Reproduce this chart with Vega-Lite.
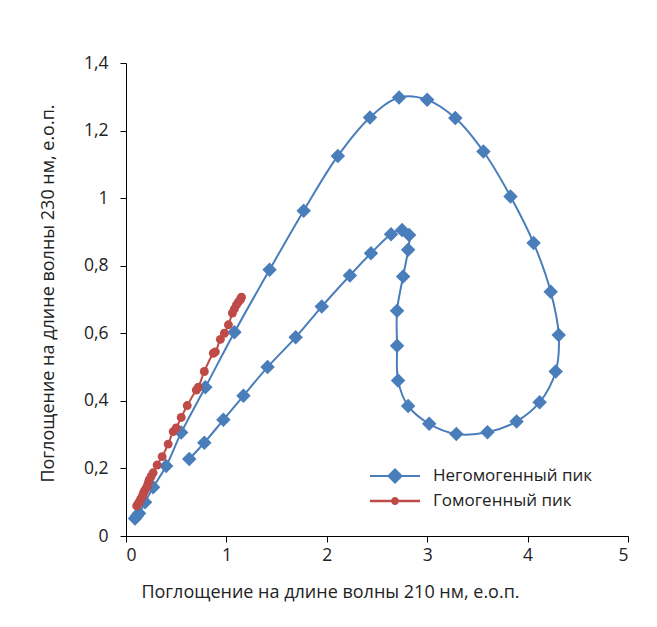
{
  "$schema": "https://vega.github.io/schema/vega-lite/v6.json",
  "autosize": {"type": "none"},
  "width": 502,
  "height": 473,
  "padding": {"left": 126, "top": 63, "right": 29, "bottom": 91},
  "background": "white",
  "config": {
    "font": "Open Sans",
    "view": {"stroke": null},
    "axis": {"grid": false, "domainColor": "#000", "tickColor": "#000", "labelColor": "#222", "titleColor": "#222", "labelFontSize": 17.5, "titleFontSize": 18, "titleFontWeight": "normal", "tickSize": 6, "labelFont": "Open Sans", "titleFont": "Open Sans"},
    "legend": {"labelFont": "Open Sans", "labelFontSize": 17, "labelColor": "#222"}
  },
  "datasets": {
    "curves": [
      {"s": "Негомогенный пик", "i": 1, "x": 0.09, "y": 0.052},
      {"s": "Негомогенный пик", "i": 2, "x": 0.11, "y": 0.06},
      {"s": "Негомогенный пик", "i": 3, "x": 0.13, "y": 0.067},
      {"s": "Негомогенный пик", "i": 4, "x": 0.19, "y": 0.10},
      {"s": "Негомогенный пик", "i": 5, "x": 0.27, "y": 0.144},
      {"s": "Негомогенный пик", "i": 6, "x": 0.40, "y": 0.207},
      {"s": "Негомогенный пик", "i": 7, "x": 0.55, "y": 0.306},
      {"s": "Негомогенный пик", "i": 8, "x": 0.79, "y": 0.44},
      {"s": "Негомогенный пик", "i": 9, "x": 1.08, "y": 0.603},
      {"s": "Негомогенный пик", "i": 10, "x": 1.43, "y": 0.788},
      {"s": "Негомогенный пик", "i": 11, "x": 1.77, "y": 0.963},
      {"s": "Негомогенный пик", "i": 12, "x": 2.11, "y": 1.125},
      {"s": "Негомогенный пик", "i": 13, "x": 2.43, "y": 1.239},
      {"s": "Негомогенный пик", "i": 14, "x": 2.72, "y": 1.298},
      {"s": "Негомогенный пик", "i": 15, "x": 3.00, "y": 1.291},
      {"s": "Негомогенный пик", "i": 16, "x": 3.28, "y": 1.237},
      {"s": "Негомогенный пик", "i": 17, "x": 3.56, "y": 1.138},
      {"s": "Негомогенный пик", "i": 18, "x": 3.83, "y": 1.005},
      {"s": "Негомогенный пик", "i": 19, "x": 4.06, "y": 0.867},
      {"s": "Негомогенный пик", "i": 20, "x": 4.23, "y": 0.723},
      {"s": "Негомогенный пик", "i": 21, "x": 4.31, "y": 0.595},
      {"s": "Негомогенный пик", "i": 22, "x": 4.28, "y": 0.487},
      {"s": "Негомогенный пик", "i": 23, "x": 4.12, "y": 0.396},
      {"s": "Негомогенный пик", "i": 24, "x": 3.89, "y": 0.339},
      {"s": "Негомогенный пик", "i": 25, "x": 3.60, "y": 0.307},
      {"s": "Негомогенный пик", "i": 26, "x": 3.29, "y": 0.302},
      {"s": "Негомогенный пик", "i": 27, "x": 3.02, "y": 0.332},
      {"s": "Негомогенный пик", "i": 28, "x": 2.81, "y": 0.385},
      {"s": "Негомогенный пик", "i": 29, "x": 2.71, "y": 0.46},
      {"s": "Негомогенный пик", "i": 30, "x": 2.70, "y": 0.563},
      {"s": "Негомогенный пик", "i": 31, "x": 2.70, "y": 0.667},
      {"s": "Негомогенный пик", "i": 32, "x": 2.76, "y": 0.768},
      {"s": "Негомогенный пик", "i": 33, "x": 2.81, "y": 0.847},
      {"s": "Негомогенный пик", "i": 34, "x": 2.82, "y": 0.891},
      {"s": "Негомогенный пик", "i": 35, "x": 2.75, "y": 0.906},
      {"s": "Негомогенный пик", "i": 36, "x": 2.64, "y": 0.893},
      {"s": "Негомогенный пик", "i": 37, "x": 2.44, "y": 0.837},
      {"s": "Негомогенный пик", "i": 38, "x": 2.23, "y": 0.771},
      {"s": "Негомогенный пик", "i": 39, "x": 1.95, "y": 0.679},
      {"s": "Негомогенный пик", "i": 40, "x": 1.69, "y": 0.588},
      {"s": "Негомогенный пик", "i": 41, "x": 1.41, "y": 0.50},
      {"s": "Негомогенный пик", "i": 42, "x": 1.17, "y": 0.415},
      {"s": "Негомогенный пик", "i": 43, "x": 0.97, "y": 0.344},
      {"s": "Негомогенный пик", "i": 44, "x": 0.78, "y": 0.276},
      {"s": "Негомогенный пик", "i": 45, "x": 0.63, "y": 0.228},
      {"s": "Гомогенный пик", "i": 1, "x": 0.107, "y": 0.089},
      {"s": "Гомогенный пик", "i": 2, "x": 0.12, "y": 0.095},
      {"s": "Гомогенный пик", "i": 3, "x": 0.13, "y": 0.10},
      {"s": "Гомогенный пик", "i": 4, "x": 0.145, "y": 0.108},
      {"s": "Гомогенный пик", "i": 5, "x": 0.16, "y": 0.116},
      {"s": "Гомогенный пик", "i": 6, "x": 0.17, "y": 0.124},
      {"s": "Гомогенный пик", "i": 7, "x": 0.18, "y": 0.131},
      {"s": "Гомогенный пик", "i": 8, "x": 0.195, "y": 0.139},
      {"s": "Гомогенный пик", "i": 9, "x": 0.21, "y": 0.146},
      {"s": "Гомогенный пик", "i": 10, "x": 0.22, "y": 0.156},
      {"s": "Гомогенный пик", "i": 11, "x": 0.23, "y": 0.166},
      {"s": "Гомогенный пик", "i": 12, "x": 0.25, "y": 0.176},
      {"s": "Гомогенный пик", "i": 13, "x": 0.27, "y": 0.187},
      {"s": "Гомогенный пик", "i": 14, "x": 0.31, "y": 0.21},
      {"s": "Гомогенный пик", "i": 15, "x": 0.36, "y": 0.235},
      {"s": "Гомогенный пик", "i": 16, "x": 0.42, "y": 0.272},
      {"s": "Гомогенный пик", "i": 17, "x": 0.47, "y": 0.309},
      {"s": "Гомогенный пик", "i": 18, "x": 0.50, "y": 0.32},
      {"s": "Гомогенный пик", "i": 19, "x": 0.55, "y": 0.351},
      {"s": "Гомогенный пик", "i": 20, "x": 0.61, "y": 0.386},
      {"s": "Гомогенный пик", "i": 21, "x": 0.70, "y": 0.432},
      {"s": "Гомогенный пик", "i": 22, "x": 0.72, "y": 0.44},
      {"s": "Гомогенный пик", "i": 23, "x": 0.78, "y": 0.487},
      {"s": "Гомогенный пик", "i": 24, "x": 0.87, "y": 0.541},
      {"s": "Гомогенный пик", "i": 25, "x": 0.89, "y": 0.545},
      {"s": "Гомогенный пик", "i": 26, "x": 0.94, "y": 0.582},
      {"s": "Гомогенный пик", "i": 27, "x": 0.98, "y": 0.60},
      {"s": "Гомогенный пик", "i": 28, "x": 1.02, "y": 0.625},
      {"s": "Гомогенный пик", "i": 29, "x": 1.06, "y": 0.66},
      {"s": "Гомогенный пик", "i": 30, "x": 1.08, "y": 0.672},
      {"s": "Гомогенный пик", "i": 31, "x": 1.10, "y": 0.684},
      {"s": "Гомогенный пик", "i": 32, "x": 1.12, "y": 0.693},
      {"s": "Гомогенный пик", "i": 33, "x": 1.14, "y": 0.70},
      {"s": "Гомогенный пик", "i": 34, "x": 1.15, "y": 0.707}
    ]
  },
  "data": {"name": "curves"},
  "encoding": {
    "x": {"field": "x", "type": "quantitative", "scale": {"domain": [0, 5], "nice": false, "zero": false},
      "axis": {"values": [0, 1, 2, 3, 4, 5], "title": "Поглощение на длине волны 210 нм, е.о.п.", "labelPadding": 4, "titlePadding": 20, "titleX": 204, "titleAlign": "center", "titleAnchor": null}},
    "y": {"field": "y", "type": "quantitative", "scale": {"domain": [0, 1.4], "nice": false, "zero": false},
      "axis": {"values": [0, 0.2, 0.4, 0.6, 0.8, 1, 1.2, 1.4], "labelExpr": "replace(format(datum.value, '.1~f'), '.', ',')", "title": "Поглощение на длине волны 230 нм, е.о.п.", "labelPadding": 12, "titlePadding": 26, "titleY": 230, "titleAlign": "center"}}
  },
  "layer": [
    {
      "mark": {"type": "line", "interpolate": "catmull-rom", "strokeWidth": 2},
      "encoding": {
        "order": {"field": "i", "type": "quantitative"},
        "color": {"field": "s", "type": "nominal",
          "scale": {"domain": ["Негомогенный пик", "Гомогенный пик"], "range": ["#4A7EBB", "#BE4B48"]},
          "legend": {
            "title": null, "orient": "none", "legendX": 259, "legendY": 403,
            "symbolSize": 400, "labelOffset": 28, "rowPadding": 7, "padding": 0,
            "encode": {"symbols": {"update": {
              "shape": {"signal": "datum.value === 'Негомогенный пик' ? 'M-2.5,-0.1H2.5V0.1H-2.5Z M0,-0.8L0.8,0L0,0.8L-0.8,0Z' : 'M-2.5,-0.12H2.5V0.12H-2.5Z M-0.4,0A0.4,0.4,0,1,1,0.4,0A0.4,0.4,0,1,1,-0.4,0Z'"},
              "fill": {"signal": "datum.value === 'Негомогенный пик' ? '#4A7EBB' : '#BE4B48'"},
              "fillOpacity": {"value": 1},
              "strokeWidth": {"value": 0}
            }}}
          }}
      }
    },
    {
      "transform": [{"filter": "datum.s === 'Негомогенный пик'"}],
      "mark": {"type": "point", "shape": "diamond", "filled": true, "size": 210, "color": "#4A7EBB", "opacity": 1}
    },
    {
      "transform": [{"filter": "datum.s === 'Гомогенный пик'"}],
      "mark": {"type": "point", "shape": "circle", "filled": true, "size": 80, "color": "#BE4B48", "opacity": 1}
    }
  ]
}
